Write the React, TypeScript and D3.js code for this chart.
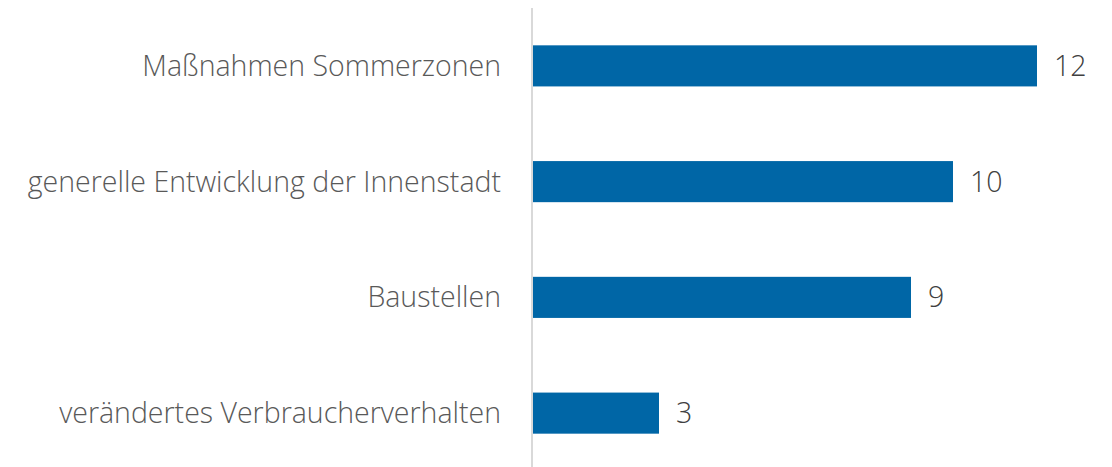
import React from "react";
import * as d3 from "d3";

const categories = [
  "Maßnahmen Sommerzonen",
  "generelle Entwicklung der Innenstadt",
  "Baustellen",
  "verändertes Verbraucherverhalten",
];
const values = [12, 10, 9, 3];

const width = 1112;
const height = 467;
const axisX = 532;

export default function App() {
  const x = d3.scaleLinear().domain([0, 12]).range([axisX + 1, 1037]);
  const y = d3
    .scaleBand<string>()
    .domain(categories)
    .range([8, 471])
    .paddingInner(0.645)
    .paddingOuter(0.3225);

  const font = "'Open Sans', 'Noto Sans', sans-serif";

  return (
    <svg
      width={width}
      height={height}
      style={{ position: "absolute", left: 0, top: 0, background: "#fff" }}
    >
      {categories.map((c, i) => (
        <g key={c}>
          <rect
            x={x(0)}
            y={y(c)}
            width={x(values[i]) - x(0)}
            height={y.bandwidth()}
            fill="#0066a6"
          />
          <text
            x={axisX - 31}
            y={(y(c) as number) + y.bandwidth() / 2}
            dy="0.35em"
            textAnchor="end"
            fontFamily={font}
            fontWeight={300}
            fontSize={28.5}
            fill="#595959"
          >
            {c}
          </text>
          <text
            x={x(values[i]) + 17}
            y={(y(c) as number) + y.bandwidth() / 2}
            dy="0.35em"
            fontFamily={font}
            fontWeight={300}
            fontSize={28.5}
            fill="#404040"
          >
            {values[i]}
          </text>
        </g>
      ))}
      <line x1={axisX} x2={axisX} y1={8} y2={height} stroke="#d9d9d9" strokeWidth={2} />
    </svg>
  );
}
